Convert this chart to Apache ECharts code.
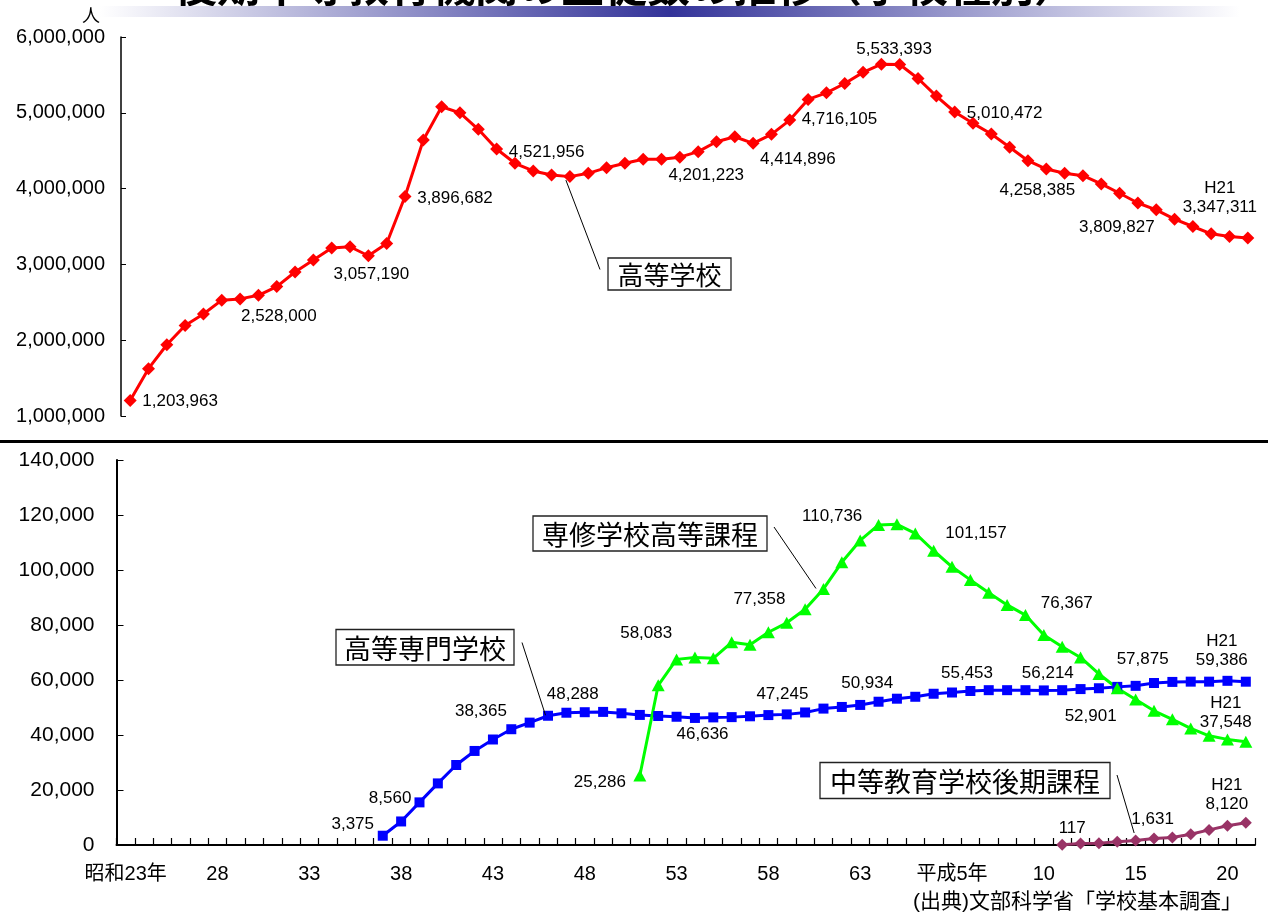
<!DOCTYPE html>
<html lang="ja">
<head>
<meta charset="utf-8">
<title>後期中等教育機関の生徒数の推移（学校種別）</title>
<script src="https://cdn.jsdelivr.net/npm/echarts@6/dist/echarts.min.js"></script>
<style>
  html, body { margin: 0; padding: 0; background: #fff; }
  #chart { width: 1268px; height: 917px; }
</style>
</head>
<body>
<div id="chart"></div>
<script>
// 年度：1948（昭和23年）〜 2009（平成21年）
const years = [
  '1948','1949','1950','1951','1952','1953','1954','1955','1956','1957',
  '1958','1959','1960','1961','1962','1963','1964','1965','1966','1967',
  '1968','1969','1970','1971','1972','1973','1974','1975','1976','1977',
  '1978','1979','1980','1981','1982','1983','1984','1985','1986','1987',
  '1988','1989','1990','1991','1992','1993','1994','1995','1996','1997',
  '1998','1999','2000','2001','2002','2003','2004','2005','2006','2007',
  '2008','2009'
];

// 5年ごとの目盛ラベル
const xTickLabels = ['昭和23年','28','33','38','43','48','53','58','63','平成5年','10','15','20'];

// 高等学校（1948〜2009）
const highSchool = [
  1203963, 1624000, 1940000, 2195000, 2345000, 2528000, 2545000, 2592000, 2707000, 2900000,
  3057190, 3216000, 3233000, 3114000, 3276000, 3896682, 4641000, 5080000, 5000000, 4782000,
  4521956, 4334000, 4233000, 4180000, 4158000, 4201223, 4276000, 4334000, 4386000, 4386000,
  4414896, 4487000, 4618000, 4684000, 4597000, 4716105, 4904000, 5176000, 5263000, 5387000,
  5533393, 5641000, 5637000, 5453000, 5220000, 5010472, 4861000, 4720000, 4545000, 4368000,
  4258385, 4203000, 4171000, 4062000, 3939000, 3809827, 3720000, 3597000, 3500000, 3404000,
  3368000, 3347311
];

// 高等専門学校（1962〜2009）
const techCollegeStart = '1962';
const techCollege = [
  3375, 8560, 15500, 22400, 29100, 34200, 38365, 42100, 44500, 47000,
  48100, 48288, 48400, 47900, 47300, 46900, 46636, 46200, 46400, 46500,
  46800, 47245, 47500, 48200, 49600, 50200, 50934, 52100, 53200, 53900,
  55000, 55453, 56000, 56300, 56300, 56300, 56214, 56300, 56700, 57000,
  57500, 57875, 58900, 59300, 59400, 59400, 59700, 59386
];

// 専修学校高等課程（1976〜2009）
const specialTrainingStart = '1976';
const specialTraining = [
  25286, 58083, 67500, 68200, 67900, 73700, 72800, 77358, 80800, 85700,
  93100, 102800, 110736, 116400, 116600, 113300, 107000, 101157, 96400, 91700,
  87300, 83600, 76367, 72100, 68200, 62200, 57000, 52901, 48800, 45700,
  42400, 39700, 38400, 37548
];

// 中等教育学校後期課程（1999〜2009）
const secondaryStart = '1999';
const secondarySchool = [117, 550, 650, 1200, 1631, 2400, 2700, 3900, 5500, 7000, 8120];

// 数値ラベルの配置（点からのずれ, px）
const labelPlacement = {
  highSchool: {
    '1948': [50, 1], '1953': [57, 16], '1958': [58, 14], '1963': [50, 2], '1968': [50, 3],
    '1973': [118, 2], '1978': [118, 2], '1983': [68, -15], '1988': [31, -23], '1993': [50, 1],
    '1998': [-9, 21], '2003': [-21, 24], '2009': [-28, -40]
  },
  techCollege: {
    '1962': [-30, -11], '1963': [-11, -23], '1968': [-12, -28], '1973': [-12, -18], '1978': [26, 18],
    '1983': [14, -21], '1988': [7, -22], '1993': [15, -19], '1998': [4, -17], '2003': [7, -27],
    '2009': [-24, -31]
  },
  specialTraining: {
    '1976': [-40, 7], '1977': [-12, -52], '1983': [-9, -33], '1988': [-28, -24], '1993': [24, -34],
    '1998': [23, -32], '2003': [-45, 17], '2009': [-20, -29]
  },
  secondarySchool: { '1999': [10, -16], '2003': [17, -21], '2009': [-19, -28] }
};

const NUM_FONT = '"Liberation Sans", Arial, sans-serif';
const JP_FONT = '"Noto Sans CJK JP", sans-serif';
const MIX_FONT = '"Liberation Sans", "Noto Sans CJK JP", sans-serif';

const fmt = v => v.toLocaleString('en-US');

function buildData(values, startYear, placement) {
  const start = years.indexOf(startYear);
  return years.map((y, i) => {
    const k = i - start;
    if (k < 0 || k >= values.length) return '-';
    const v = values[k];
    const off = placement[y];
    if (!off) return v;
    return {
      value: v,
      label: {
        show: true,
        position: 'inside',
        offset: off,
        formatter: (y === '2009' ? 'H21\n' : '') + fmt(v)
      }
    };
  });
}

const valueLabel = {
  color: '#000',
  fontFamily: NUM_FONT,
  fontSize: 17,
  lineHeight: 19,
  align: 'center',
  verticalAlign: 'middle'
};

function lineSeries(name, xi, data, color, symbol, size) {
  return {
    name: name,
    type: 'line',
    xAxisIndex: xi,
    yAxisIndex: xi,
    data: data,
    symbol: symbol,
    symbolSize: size,
    showAllSymbol: true,
    lineStyle: { color: color, width: 3 },
    itemStyle: { color: color },
    label: Object.assign({ show: false }, valueLabel),
    emphasis: { disabled: true },
    silent: true,
    z: 3
  };
}

const chart = echarts.init(document.getElementById('chart'), null, { renderer: 'canvas' });

chart.setOption({
  animation: false,
  backgroundColor: '#fff',
  grid: [
    { left: 121, top: 37, width: 1136, height: 379 },
    { left: 116.5, top: 460, width: 1138.5, height: 385 }
  ],
  xAxis: [
    {
      gridIndex: 0, type: 'category', data: years, boundaryGap: true,
      axisLine: { show: false }, axisTick: { show: false }, axisLabel: { show: false },
      splitLine: { show: false }
    },
    {
      gridIndex: 1, type: 'category', data: years, boundaryGap: true,
      axisLine: { show: true, lineStyle: { color: '#000', width: 2 } },
      axisTick: { show: true, inside: true, length: 7, interval: 0, lineStyle: { color: '#000', width: 1.2 } },
      axisLabel: {
        interval: 4, margin: 19, color: '#000', fontFamily: MIX_FONT, fontSize: 20,
        formatter: (v, i) => xTickLabels[Math.round(i / 5)] || ''
      },
      splitLine: { show: false }
    }
  ],
  yAxis: [
    {
      gridIndex: 0, type: 'value', min: 1000000, max: 6000000, interval: 1000000,
      axisLine: { show: true, lineStyle: { color: '#000', width: 1.5 } },
      axisTick: { show: true, inside: true, length: 5, lineStyle: { color: '#000' } },
      axisLabel: { margin: 16, color: '#000', fontFamily: NUM_FONT, fontSize: 20, formatter: v => fmt(v) },
      splitLine: { show: false }
    },
    {
      gridIndex: 1, type: 'value', min: 0, max: 140000, interval: 20000,
      axisLine: { show: true, lineStyle: { color: '#000', width: 2 } },
      axisTick: { show: true, inside: true, length: 7, lineStyle: { color: '#000' } },
      axisLabel: { margin: 22, color: '#000', fontFamily: NUM_FONT, fontSize: 21, formatter: v => fmt(v) },
      splitLine: { show: false }
    }
  ],
  series: [
    lineSeries('高等学校', 0, buildData(highSchool, '1948', labelPlacement.highSchool), '#ff0000', 'diamond', 13),
    lineSeries('高等専門学校', 1, buildData(techCollege, techCollegeStart, labelPlacement.techCollege), '#0000ff', 'rect', 10),
    lineSeries('専修学校高等課程', 1, buildData(specialTraining, specialTrainingStart, labelPlacement.specialTraining), '#00ff00', 'triangle', [13, 12]),
    lineSeries('中等教育学校後期課程', 1, buildData(secondarySchool, secondaryStart, labelPlacement.secondarySchool), '#993366', 'diamond', 12)
  ]
});

// 系列名の吹き出し（枠付きテキスト＋引き出し線）
const callouts = [
  { text: '高等学校', box: [608, 258, 123, 32], size: 26, series: 0, values: highSchool, start: '1948', year: '1972', from: [600, 269.5], nudge: [-4, 3.5] },
  { text: '専修学校高等課程', box: [533, 516, 234, 35], size: 27, series: 2, values: specialTraining, start: specialTrainingStart, year: '1986', from: [774, 527], nudge: [-7.5, -0.5] },
  { text: '高等専門学校', box: [336, 629.5, 178, 35.5], size: 27, series: 1, values: techCollege, start: techCollegeStart, year: '1971', from: [522, 642.5], nudge: [-2.5, -0.5] },
  { text: '中等教育学校後期課程', box: [820, 762.5, 290, 36], size: 27, series: 3, values: secondarySchool, start: secondaryStart, year: '2003', from: [1117, 775], nudge: [-1.5, -7.5] }
];

const graphics = [];

// 表題（上端で切れている）と帯
graphics.push({
  type: 'text', left: 174, top: -36, z: 1,
  style: { text: '後期中等教育機関の生徒数の推移（学校種別）', font: 'bold 43px ' + JP_FONT, fill: '#000' }
});
graphics.push({
  type: 'rect', z: 2,
  shape: { x: 100, y: 6, width: 1140, height: 11 },
  style: {
    fill: new echarts.graphic.LinearGradient(0, 0, 1, 0, [
      { offset: 0, color: '#ffffff' },
      { offset: 0.5, color: '#333399' },
      { offset: 1, color: '#ffffff' }
    ])
  }
});
graphics.push({
  type: 'text', x: 91, y: 15, z: 3,
  style: { text: '人', font: '18px ' + JP_FONT, fill: '#000', align: 'center', verticalAlign: 'middle' }
});

// 上下の区切り線
graphics.push({ type: 'rect', z: 2, shape: { x: 0, y: 440, width: 1268, height: 3 }, style: { fill: '#000' } });

// 出典
graphics.push({
  type: 'text', x: 1242, y: 902, z: 3,
  style: { text: '(出典)文部科学省「学校基本調査」', font: '21px ' + MIX_FONT, fill: '#000', align: 'right', verticalAlign: 'middle' }
});

callouts.forEach(c => {
  const idx = years.indexOf(c.year);
  const v = c.values[idx - years.indexOf(c.start)];
  const p = chart.convertToPixel({ seriesIndex: c.series }, [idx, v]);
  graphics.push({
    type: 'line', z: 5,
    shape: { x1: c.from[0], y1: c.from[1], x2: p[0] + c.nudge[0], y2: p[1] + c.nudge[1] },
    style: { stroke: '#000', lineWidth: 1 }
  });
  const [bx, by, bw, bh] = c.box;
  graphics.push({
    type: 'rect', z: 6,
    shape: { x: bx, y: by, width: bw, height: bh },
    style: { fill: '#fff', stroke: '#222', lineWidth: 1.3 }
  });
  graphics.push({
    type: 'text', z: 7, x: bx + bw / 2, y: by + bh / 2 + 1,
    style: { text: c.text, font: c.size + 'px ' + JP_FONT, fill: '#000', align: 'center', verticalAlign: 'middle' }
  });
});

chart.setOption({ graphic: graphics });
</script>
</body>
</html>
